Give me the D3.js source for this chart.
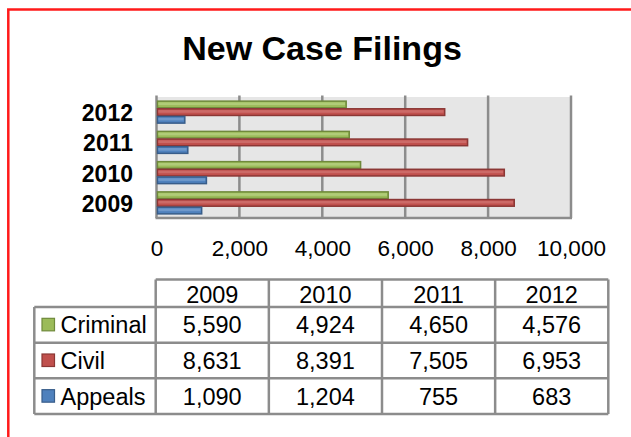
<!DOCTYPE html>
<html>
<head>
<meta charset="utf-8">
<script src="https://cdn.jsdelivr.net/npm/d3@7"></script>
<style>
  body { margin: 0; background: #fff; }
  text { font-family: "Liberation Sans", Arial, sans-serif; fill: #000; }
</style>
</head>
<body>
<div id="chart"></div>
<script>
// data
const years = ["2009", "2010", "2011", "2012"];
const seriesNames = ["Criminal", "Civil", "Appeals"];
const criminal = [5590, 4924, 4650, 4576];
const civil = [8631, 8391, 7505, 6953];
const appeals = [1090, 1204, 755, 683];
const xTicks = [0, 2000, 4000, 6000, 8000, 10000];

const values = { Criminal: criminal, Civil: civil, Appeals: appeals };
const colors = {
  Criminal: { base: "#9bbb59", light: "#b0cc78", dark: "#6f8a3b" },
  Civil:    { base: "#c0504d", light: "#cc6a67", dark: "#8b3735" },
  Appeals:  { base: "#4f81bd", light: "#6e98cb", dark: "#385d8a" }
};

const width = 631, height = 437;
const svg = d3.select("#chart").append("svg")
  .attr("width", width)
  .attr("height", height);

// red outer frame (runs off right and bottom edges)
svg.append("rect")
  .attr("x", 8.3).attr("y", 9.5)
  .attr("width", 700).attr("height", 500)
  .attr("fill", "none")
  .attr("stroke", "#ff1a1a")
  .attr("stroke-width", 2.5);

// title
svg.append("text")
  .attr("x", 322).attr("y", 60)
  .attr("text-anchor", "middle")
  .style("font-size", "34px")
  .style("font-weight", "bold")
  .text("New Case Filings");

// scales
const x = d3.scaleLinear().domain([0, 10000]).range([156.5, 571]);
const plotTop = 97, plotBottom = 218;
const y = d3.scaleBand()
  .domain(years.slice().reverse())
  .range([plotTop, plotBottom])
  .paddingInner(0.24)
  .paddingOuter(0.12);
const ySub = d3.scaleBand()
  .domain(seriesNames)
  .range([0, y.bandwidth()]);

// back wall
svg.append("rect")
  .attr("x", x(0)).attr("y", plotTop)
  .attr("width", x(10000) - x(0))
  .attr("height", plotBottom - plotTop)
  .attr("fill", "#e6e6e6");

// gridlines
svg.append("g")
  .selectAll("line")
  .data(xTicks)
  .join("line")
  .attr("x1", d => x(d)).attr("x2", d => x(d))
  .attr("y1", plotTop - 1.5).attr("y2", plotBottom)
  .attr("stroke", "#8c8c8c")
  .attr("stroke-width", 2.5);

// floor line
svg.append("line")
  .attr("x1", x(0) - 1).attr("x2", x(10000) + 1)
  .attr("y1", plotBottom).attr("y2", plotBottom)
  .attr("stroke", "#8c8c8c")
  .attr("stroke-width", 2.5);

// bars
const rows = [];
years.forEach((yr, i) => {
  seriesNames.forEach(s => rows.push({ year: yr, series: s, value: values[s][i] }));
});

const bars = svg.append("g").selectAll("g")
  .data(rows)
  .join("g")
  .attr("transform", d => `translate(0,${y(d.year) + ySub(d.series)})`);

const bh = ySub.bandwidth();
bars.append("rect")
  .attr("x", x(0) + 1)
  .attr("y", 0.5)
  .attr("width", d => x(d.value) - x(0) - 1)
  .attr("height", bh - 1)
  .attr("fill", d => colors[d.series].base)
  .attr("stroke", d => colors[d.series].dark)
  .attr("stroke-width", 1.5);

bars.append("rect")
  .attr("x", x(0) + 1.8)
  .attr("y", 1.8)
  .attr("width", d => Math.max(0, x(d.value) - x(0) - 3))
  .attr("height", bh * 0.35)
  .attr("fill", d => colors[d.series].light);

// year labels
svg.append("g")
  .selectAll("text")
  .data(years)
  .join("text")
  .attr("x", 133)
  .attr("y", d => y(d) + y.bandwidth() / 2 + 9)
  .attr("text-anchor", "end")
  .style("font-size", "23px")
  .style("font-weight", "bold")
  .text(d => d);

// x axis labels
const xAxis = d3.axisBottom(x)
  .tickValues(xTicks)
  .tickFormat(d3.format(","))
  .tickSize(0)
  .tickPadding(0);
const axisG = svg.append("g")
  .attr("transform", "translate(0,240)")
  .call(xAxis);
axisG.select(".domain").remove();
axisG.selectAll("text")
  .attr("dy", "0.71em")
  .style("font-size", "22.5px")
  .style("font-family", "'Liberation Sans', Arial, sans-serif")
  .attr("fill", "#000");

// data table
const col = d3.scaleBand().domain(years).range([155.7, 608.3]);
const headTop = 279.5, headBottom = 307, tableBottom = 414;
const row = d3.scaleBand().domain(seriesNames).range([headBottom, tableBottom]);
const legLeft = 34.3;
const lineColor = "#8c8c8c";
const table = svg.append("g");

// horizontal lines
table.append("line")
  .attr("x1", col.range()[0]).attr("x2", col.range()[1])
  .attr("y1", headTop).attr("y2", headTop);
const hLines = [headBottom].concat(seriesNames.map(s => row(s) + row.bandwidth()));
table.selectAll(".h")
  .data(hLines)
  .join("line")
  .attr("class", "h")
  .attr("x1", legLeft).attr("x2", col.range()[1])
  .attr("y1", d => d).attr("y2", d => d);

// vertical lines
table.append("line")
  .attr("x1", legLeft).attr("x2", legLeft)
  .attr("y1", headBottom).attr("y2", tableBottom);
const vLines = years.map(yr => col(yr)).concat([col.range()[1]]);
table.selectAll(".v")
  .data(vLines)
  .join("line")
  .attr("class", "v")
  .attr("x1", d => d).attr("x2", d => d)
  .attr("y1", headTop).attr("y2", tableBottom);

table.selectAll("line")
  .attr("stroke", lineColor)
  .attr("stroke-width", 2.5);

// header text
table.selectAll(".head")
  .data(years)
  .join("text")
  .attr("class", "head")
  .attr("x", d => col(d) + col.bandwidth() / 2)
  .attr("y", 303)
  .attr("text-anchor", "middle")
  .style("font-size", "23.5px")
  .text(d => d);

// legend keys and names
const legRows = table.selectAll(".leg")
  .data(seriesNames)
  .join("g")
  .attr("class", "leg")
  .attr("transform", d => `translate(0,${row(d) + row.bandwidth() / 2})`);

legRows.append("rect")
  .attr("x", 42).attr("y", -6.5)
  .attr("width", 12.5).attr("height", 12.5)
  .attr("fill", d => colors[d].base)
  .attr("stroke", d => colors[d].dark)
  .attr("stroke-width", 1.2);

legRows.append("text")
  .attr("x", 60.5)
  .attr("y", 8.5)
  .style("font-size", "23.5px")
  .text(d => d);

// values
const fmt = d3.format(",");
legRows.each(function (s) {
  d3.select(this).selectAll(".val")
    .data(values[s])
    .join("text")
    .attr("class", "val")
    .attr("x", (d, i) => col(years[i]) + col.bandwidth() / 2)
    .attr("y", 8.5)
    .attr("text-anchor", "middle")
    .style("font-size", "23.5px")
    .text(d => fmt(d));
});
</script>
</body>
</html>
